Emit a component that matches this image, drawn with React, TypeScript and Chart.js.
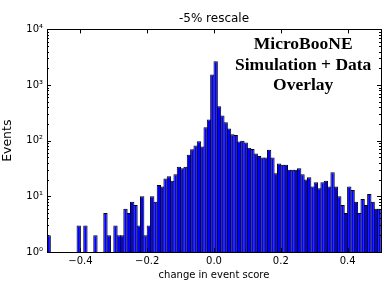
import React, { useEffect, useRef } from 'react';
import { Chart, registerables } from 'chart.js';

Chart.register(...registerables);

const TITLE = '-5% rescale';
const X_LABEL = 'change in event score';
const Y_LABEL = 'Events';
const ANNOTATION = ['MicroBooNE', 'Simulation + Data', 'Overlay'];

const X_MIN = -0.5;
const X_MAX = 0.5;
const BIN_WIDTH = 0.01;

// Counts per 0.01-wide bin from -0.5 to 0.5 (0 = empty bin)
const COUNTS = [
  2, 0, 0, 0, 0, 0, 0, 0, 0, 3,
  0, 3, 0, 0, 2, 0, 0, 5, 2, 0,
  3, 2, 2, 6, 5, 8, 7, 3, 10, 2,
  3, 10, 8, 16, 15, 21, 23, 19, 25, 34,
  32, 34, 56, 70, 82, 98, 79, 174, 240, 1550,
  2690, 417, 284, 215, 166, 131, 127, 97, 100, 93,
  75, 71, 59, 53, 50, 50, 69, 50, 26, 39,
  37, 37, 30, 30, 30, 32, 25, 20, 22, 15,
  18, 14, 18, 19, 15, 27, 15, 10, 7, 5,
  15, 13, 8, 5, 9, 7, 11, 8, 6, 6,
];

const X_TICKS = [-0.4, -0.2, 0, 0.2, 0.4];
const X_TICK_LABELS = ['\u22120.4', '\u22120.2', '0.0', '0.2', '0.4'];

const Y_MIN = 1;
const Y_MAX = 10000;
const Y_MAJOR = [1, 10, 100, 1000, 10000];
const Y_TICK_LABELS = ['10\u2070', '10\u00b9', '10\u00b2', '10\u00b3', '10\u2074'];
const MINOR_MULTIPLIERS = [2, 3, 4, 5, 6, 7, 8, 9];

const FONT = '"DejaVu Sans", sans-serif';

const framePlugin = {
  id: 'frameTicks',
  afterDraw(chart: any) {
    const { ctx, chartArea } = chart;
    const { left, right, top, bottom } = chartArea;
    const xs = chart.scales.x;
    const ys = chart.scales.y;
    ctx.save();
    ctx.strokeStyle = '#000';
    ctx.lineWidth = 1;
    ctx.beginPath();
    xs.ticks.forEach((t: any) => {
      const px = Math.round(xs.getPixelForValue(t.value)) + 0.5;
      ctx.moveTo(px, bottom);
      ctx.lineTo(px, bottom - 4);
      ctx.moveTo(px, top);
      ctx.lineTo(px, top + 4);
    });
    ys.ticks.forEach((t: any) => {
      const py = Math.round(ys.getPixelForValue(t.value)) + 0.5;
      const len = Y_MAJOR.includes(t.value) ? 4 : 2;
      ctx.moveTo(left, py);
      ctx.lineTo(left + len, py);
      ctx.moveTo(right, py);
      ctx.lineTo(right - len, py);
    });
    ctx.stroke();
    ctx.strokeRect(Math.round(left) + 0.5, Math.round(top) + 0.5, Math.round(right - left), Math.round(bottom - top));

    // annotation text (axes-fraction placement)
    ctx.fillStyle = '#000';
    ctx.font = 'bold 17.5px "Liberation Serif", "Times New Roman", serif';
    ctx.textAlign = 'center';
    ctx.textBaseline = 'middle';
    const w = right - left;
    const h = bottom - top;
    const cx = left + 0.767 * w;
    const fracs = [0.066, 0.16, 0.254];
    ANNOTATION.forEach((line, i) => {
      ctx.fillText(line, cx, top + fracs[i] * h);
    });
    ctx.restore();
  },
};

export default function App() {
  const ref = useRef<HTMLCanvasElement | null>(null);

  useEffect(() => {
    if (!ref.current) return;
    const data = COUNTS.map((c, i) => ({
      x: X_MIN + BIN_WIDTH * (i + 0.5),
      y: c > 0 ? c : null,
    }));
    const yTicks: number[] = [];
    Y_MAJOR.forEach((m) => {
      yTicks.push(m);
      if (m < Y_MAX) MINOR_MULTIPLIERS.forEach((k) => yTicks.push(k * m));
    });

    const chart = new Chart(ref.current, {
      type: 'bar',
      data: {
        datasets: [
          {
            data: data as any,
            backgroundColor: '#0000ff',
            borderColor: '#000000',
            borderWidth: 1,
            barPercentage: 1.3,
            categoryPercentage: 1,
          },
        ],
      },
      options: {
        animation: false,
        responsive: false,
        devicePixelRatio: 1,
        layout: { padding: { left: 0, right: 4, top: 0, bottom: 0 } },
        plugins: {
          legend: { display: false },
          tooltip: { enabled: false },
          title: {
            display: true,
            fullSize: false,
            text: TITLE,
            color: '#000',
            font: { family: FONT, size: 12, weight: 'normal' },
            padding: { top: 12, bottom: 3 },
          },
        },
        scales: {
          x: {
            type: 'linear',
            min: X_MIN,
            max: X_MAX,
            offset: false,
            grid: { display: false, drawTicks: false },
            border: { display: false },
            afterBuildTicks: (s: any) => {
              s.ticks = X_TICKS.map((v) => ({ value: v }));
            },
            afterFit: (s: any) => {
              s.height = 29;
            },
            ticks: {
              color: '#000',
              font: { family: FONT, size: 10 },
              padding: 3,
              autoSkip: false,
              maxRotation: 0,
              callback: (v: any) => {
                const i = X_TICKS.findIndex((t) => Math.abs(t - Number(v)) < 1e-9);
                return i >= 0 ? X_TICK_LABELS[i] : '';
              },
            },
            title: {
              display: true,
              text: X_LABEL,
              color: '#000',
              font: { family: FONT, size: 10 },
              padding: { top: 0, bottom: 0 },
            },
          },
          y: {
            type: 'logarithmic',
            min: Y_MIN,
            max: Y_MAX,
            grid: { display: false, drawTicks: false },
            border: { display: false },
            afterBuildTicks: (s: any) => {
              s.ticks = yTicks.map((v) => ({ value: v, major: Y_MAJOR.includes(v) }));
            },
            afterFit: (s: any) => {
              s.width = 47;
            },
            ticks: {
              color: '#000',
              font: { family: FONT, size: 10 },
              padding: 4,
              autoSkip: false,
              callback: (v: any) => {
                const i = Y_MAJOR.indexOf(Number(v));
                return i >= 0 ? Y_TICK_LABELS[i] : '';
              },
            },
            title: {
              display: true,
              text: Y_LABEL,
              color: '#000',
              font: { family: FONT, size: 12.5 },
              padding: { top: 0, bottom: 0 },
            },
          },
        },
      },
      plugins: [framePlugin],
    });
    return () => chart.destroy();
  }, []);

  return (
    <div style={{ position: 'absolute', left: 0, top: 0, width: 385, height: 281, background: '#fff' }}>
      <canvas ref={ref} width={385} height={281} style={{ display: 'block' }} />
    </div>
  );
}
